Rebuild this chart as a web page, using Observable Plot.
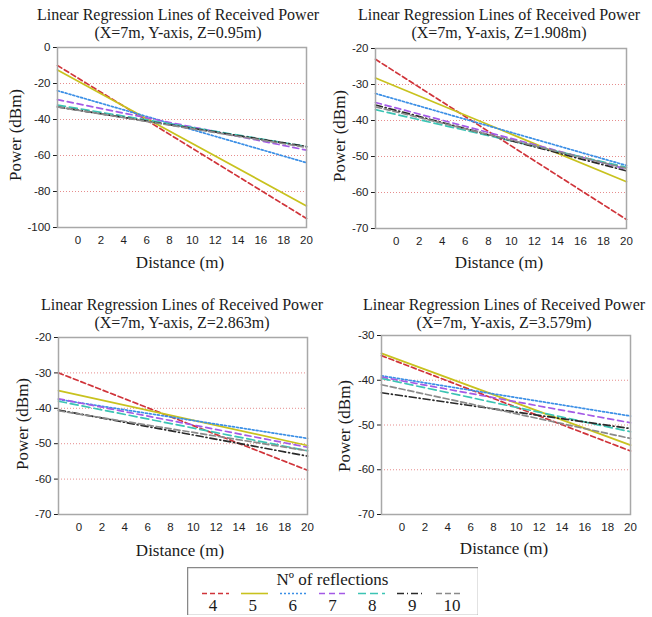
<!DOCTYPE html>
<html>
<head>
<meta charset="utf-8">
<script src="https://cdn.jsdelivr.net/npm/d3@7"></script>
<script src="https://cdn.jsdelivr.net/npm/@observablehq/plot@0.6"></script>
<style>
  html, body { margin: 0; padding: 0; background: #fff; }
  #root { position: relative; width: 652px; height: 617px; overflow: hidden; background: #fff; }
  .abs { position: absolute; }
  .serif { font-family: "Liberation Serif", "DejaVu Serif", "Times New Roman", Times, serif; }
  .title { position: absolute; font-size: 16px; color: #1a1a1a; white-space: nowrap; transform: translate(-50%, -50%); line-height: 1; }
  .xlab { position: absolute; font-size: 17px; color: #1a1a1a; white-space: nowrap; transform: translate(-50%, -50%); line-height: 1; }
  .ylab { position: absolute; font-size: 17px; color: #1a1a1a; white-space: nowrap; transform: translate(-50%, -50%) rotate(-90deg); line-height: 1; }
  .leg { position: absolute; font-size: 17px; color: #1a1a1a; white-space: nowrap; transform: translate(-50%, -50%); line-height: 1; }
</style>
</head>
<body>
<div id="root"></div>
<script>
// ---- data ----
const reflections = [4, 5, 6, 7, 8, 9, 10];
const seriesColors = ["#d0343a", "#c8c21e", "#3b8fe6", "#a45ae6", "#3cc4b4", "#2a2a2a", "#8a8a8a"];
const seriesDash = ["5,3", null, "2,2", "6,4", "8,4", "7,3,1,3", "6,3"];
const xStart = -1.8;
const xEnd = 20;
const xTicks = [0, 2, 4, 6, 8, 10, 12, 14, 16, 18, 20];

const panelTitles = [
  "(X=7m, Y-axis, Z=0.95m)",
  "(X=7m, Y-axis, Z=1.908m)",
  "(X=7m, Y-axis, Z=2.863m)",
  "(X=7m, Y-axis, Z=3.579m)"
];
const mainTitle = "Linear Regression Lines of Received Power";
const xLabel = "Distance (m)";
const yLabel = "Power (dBm)";

// start (x = -1.8) and end (x = 20) values of each regression line, order = reflections
const p1Start = [-10, -12.5, -24, -29, -32, -33, -33];
const p1End   = [-95, -88, -64, -57, -55, -55, -55.5];
const p2Start = [-23, -28.2, -32.5, -35, -37, -35.7, -36.2];
const p2End   = [-67.5, -57, -52.5, -53.5, -53, -54, -53.3];
const p3Start = [-30, -35, -37.5, -37.3, -38, -40.5, -40.7];
const p3End   = [-57.5, -50.5, -48.5, -51, -52, -53.5, -52];
const p4Start = [-34.5, -34, -39, -39.3, -39.6, -42.8, -41];
const p4End   = [-55.8, -54.5, -48, -49.5, -51.5, -50.8, -53];

const p1YTicks = [0, -20, -40, -60, -80, -100];
const p2YTicks = [-20, -30, -40, -50, -60, -70];
const p3YTicks = [-20, -30, -40, -50, -60, -70];
const p4YTicks = [-30, -40, -50, -60, -70];

const legendTitle = "Nº of reflections";

// ---- layout ----
const panels = [
  {starts: p1Start, ends: p1End, yTicks: p1YTicks, yDomain: [-100, 0], sub: panelTitles[0],
   frame: {l: 57, r: 306, t: 47, b: 227}, off: 0, titleX: 178, titleY: 15, xlab: [180, 262], ylab: [15, 135]},
  {starts: p2Start, ends: p2End, yTicks: p2YTicks, yDomain: [-70, -20], sub: panelTitles[1],
   frame: {l: 375, r: 626, t: 48, b: 228}, off: 322, titleX: 499, titleY: 15, xlab: [499, 262], ylab: [339, 136]},
  {starts: p3Start, ends: p3End, yTicks: p3YTicks, yDomain: [-70, -20], sub: panelTitles[2],
   frame: {l: 58, r: 307, t: 337, b: 514}, off: 0, titleX: 182, titleY: 305, xlab: [180, 550], ylab: [22, 424]},
  {starts: p4Start, ends: p4End, yTicks: p4YTicks, yDomain: [-70, -30], sub: panelTitles[3],
   frame: {l: 381, r: 630, t: 335, b: 514}, off: 322, titleX: 504, titleY: 305, xlab: [504, 548], ylab: [344, 426]}
];

const root = document.getElementById("root");

function addDiv(cls, text, x, y) {
  const d = document.createElement("div");
  d.className = cls + " serif";
  d.textContent = text;
  d.style.left = x + "px";
  d.style.top = y + "px";
  root.appendChild(d);
  return d;
}

panels.forEach(p => {
  const svgTop = p.frame.t - 8;
  const marginTop = p.frame.t - svgTop;
  const marginBottom = 26;
  const height = p.frame.b - svgTop + marginBottom;
  const marginLeft = p.frame.l - p.off;
  const marginRight = 12;
  const width = p.frame.r - p.off + marginRight;

  const gridVals = p.yTicks.filter(v => v > p.yDomain[0] && v < p.yDomain[1]);

  const lineMarks = reflections.map((r, i) => {
    const pts = [{x: xStart, y: p.starts[i]}, {x: xEnd, y: p.ends[i]}];
    return Plot.line(pts, {
      x: "x", y: "y",
      stroke: seriesColors[i],
      strokeWidth: 1.7,
      strokeDasharray: seriesDash[i] || undefined
    });
  });

  const chart = Plot.plot({
    width, height, marginTop, marginBottom, marginLeft, marginRight,
    style: {fontFamily: "'Liberation Sans', Arial, sans-serif", fontSize: "11.5px", color: "#1e1e1e", background: "transparent"},
    x: {domain: [xStart, xEnd], ticks: xTicks, tickSize: 0, tickPadding: 8, label: null},
    y: {domain: p.yDomain, ticks: p.yTicks, tickSize: 4, tickPadding: 3, label: null, tickFormat: d => String(d)},
    marks: [
      Plot.ruleY(gridVals, {stroke: "#e07070", strokeDasharray: "1,2", strokeWidth: 1, strokeOpacity: 0.8}),
      ...lineMarks,
      Plot.frame({stroke: "#a8a8a8", strokeWidth: 1.5})
    ]
  });
  chart.classList.add("abs");
  chart.style.left = p.off + "px";
  chart.style.top = svgTop + "px";
  root.appendChild(chart);

  addDiv("title", mainTitle, p.titleX, p.titleY);
  addDiv("title", p.sub, p.titleX, p.titleY + 18);
  addDiv("xlab", xLabel, p.xlab[0], p.xlab[1]);
  addDiv("ylab", yLabel, p.ylab[0], p.ylab[1]);
});

// ---- legend ----
const legendLeft = 187, legendTop = 567, legendW = 291, legendH = 48;
const xLeg = d3.scaleBand().domain(reflections).range([0, legendW]).padding(0.3);
const legend = Plot.plot({
  width: legendW, height: legendH,
  margin: 0,
  style: {background: "#fff"},
  x: {type: "band", domain: reflections, range: [0, legendW], padding: 0.3, axis: null},
  y: {type: "identity"},
  marks: [
    Plot.frame({stroke: "#888", strokeWidth: 1.5}),
    ...reflections.map((r, i) => Plot.tickY([r], {
      x: d => d, y: 26, stroke: seriesColors[i], strokeWidth: 1.6,
      strokeDasharray: seriesDash[i] || undefined
    }))
  ]
});
legend.classList.add("abs");
legend.style.left = legendLeft + "px";
legend.style.top = legendTop + "px";
root.appendChild(legend);

addDiv("leg", legendTitle, legendLeft + legendW / 2, legendTop + 12);
reflections.forEach(r => {
  addDiv("leg", String(r), legendLeft + xLeg(r) + xLeg.bandwidth() / 2, legendTop + 38);
});
</script>
</body>
</html>
